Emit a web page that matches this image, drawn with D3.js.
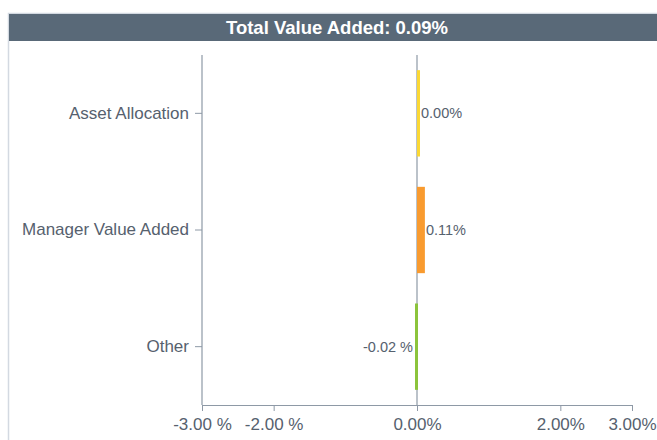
<!DOCTYPE html>
<html>
<head>
<meta charset="utf-8">
<script src="https://cdn.jsdelivr.net/npm/d3@7"></script>
<style>
  body { margin: 0; background: #fff; }
  svg { display: block; font-family: Arial, "Liberation Sans", sans-serif; }
</style>
</head>
<body>
<div id="vis"></div>
<script>
// data
const CATEGORIES = ["Asset Allocation", "Manager Value Added", "Other"];
const VALUES = [0.00, 0.11, -0.02];
const COLORS = ["#fbd834", "#f99b2f", "#8cc43c"];
const X_TICKS = [-3, -2, 0, 2, 3];
const TITLE = "Total Value Added: 0.09%";

const FRAME_WIDTH = 657;
const FRAME_HEIGHT = 440;
const MARGINS = {left: 202, right: 25, top: 55, bottom: 35};

const svg = d3.select("#vis")
  .append("svg")
    .attr("width", FRAME_WIDTH)
    .attr("height", FRAME_HEIGHT);

// panel border + header
svg.append("rect")
  .attr("x", 8.5).attr("y", 13.5)
  .attr("width", FRAME_WIDTH).attr("height", FRAME_HEIGHT)
  .attr("fill", "none")
  .attr("stroke", "#d3d9e1")
  .attr("stroke-width", 1.5);

svg.append("rect")
  .attr("x", 9).attr("y", 14)
  .attr("width", FRAME_WIDTH - 9).attr("height", 27)
  .attr("fill", "#596978");

svg.append("text")
  .attr("x", 337).attr("y", 34)
  .attr("text-anchor", "middle")
  .attr("fill", "#fff")
  .attr("font-family", "'Liberation Sans Narrow', 'Arial Narrow', Arial, sans-serif")
  .attr("font-weight", "bold")
  .attr("font-size", "18.5px")
  .text(TITLE);

// scales
const X_SCALE = d3.scaleLinear()
  .domain([-3, 3])
  .range([MARGINS.left, FRAME_WIDTH - MARGINS.right]);

const Y_SCALE = d3.scaleBand()
  .domain(CATEGORIES)
  .range([MARGINS.top, FRAME_HEIGHT - MARGINS.bottom])
  .paddingInner(0.26)
  .paddingOuter(0.13);

const AXIS_COLOR = "#8e99a6";
const TEXT_COLOR = "#56616e";

// zero line
svg.append("line")
  .attr("x1", X_SCALE(0)).attr("x2", X_SCALE(0))
  .attr("y1", MARGINS.top).attr("y2", FRAME_HEIGHT - MARGINS.bottom)
  .attr("stroke", AXIS_COLOR)
  .attr("stroke-width", 1.2);

// bars (tiny values get a minimum visible width)
const data = CATEGORIES.map((c, i) => ({cat: c, val: VALUES[i], color: COLORS[i]}));
const MIN_W = 3;

svg.selectAll(".bar")
  .data(data)
  .enter()
  .append("rect")
    .attr("class", "bar")
    .attr("x", d => {
      let w = Math.abs(X_SCALE(d.val) - X_SCALE(0));
      if (d.val < 0) return X_SCALE(0) - Math.max(w, MIN_W) + 1;
      return X_SCALE(0);
    })
    .attr("y", d => Y_SCALE(d.cat))
    .attr("width", d => Math.max(Math.abs(X_SCALE(d.val) - X_SCALE(0)), MIN_W))
    .attr("height", Y_SCALE.bandwidth())
    .attr("fill", d => d.color);

// value labels
svg.selectAll(".val")
  .data(data)
  .enter()
  .append("text")
    .attr("class", "val")
    .attr("x", d => {
      let w = Math.max(Math.abs(X_SCALE(d.val) - X_SCALE(0)), MIN_W);
      return d.val < 0 ? X_SCALE(0) - w - 1 : X_SCALE(0) + w + 1;
    })
    .attr("y", d => Y_SCALE(d.cat) + Y_SCALE.bandwidth() / 2)
    .attr("dy", "0.35em")
    .attr("text-anchor", d => d.val < 0 ? "end" : "start")
    .attr("fill", TEXT_COLOR)
    .attr("font-size", "14.5px")
    .text(d => d.val < 0 ? d.val.toFixed(2) + " %" : d.val.toFixed(2) + "%");

// x axis
const xAxis = svg.append("g")
  .attr("transform", "translate(0," + (FRAME_HEIGHT - MARGINS.bottom) + ")")
  .call(d3.axisBottom(X_SCALE)
    .tickValues(X_TICKS)
    .tickSize(6)
    .tickSizeOuter(0)
    .tickFormat(d => d < 0 ? d.toFixed(2) + " %" : d.toFixed(2) + "%"));

// y axis
const yAxis = svg.append("g")
  .attr("transform", "translate(" + MARGINS.left + ",0)")
  .call(d3.axisLeft(Y_SCALE).tickSize(7).tickSizeOuter(0).tickPadding(6));

[xAxis, yAxis].forEach(g => {
  g.select(".domain").attr("stroke", AXIS_COLOR).attr("stroke-width", 1.2);
  g.selectAll(".tick line").attr("stroke", AXIS_COLOR);
  g.selectAll(".tick text")
    .attr("fill", TEXT_COLOR)
    .attr("font-size", "17px")
    .attr("font-family", "Arial, 'Liberation Sans', sans-serif");
});
xAxis.selectAll(".tick text").attr("dy", "0.95em");
// y domain should reach the top of the plot
yAxis.select(".domain").attr("d", "M0," + MARGINS.top + "V" + (FRAME_HEIGHT - MARGINS.bottom));
</script>
</body>
</html>
